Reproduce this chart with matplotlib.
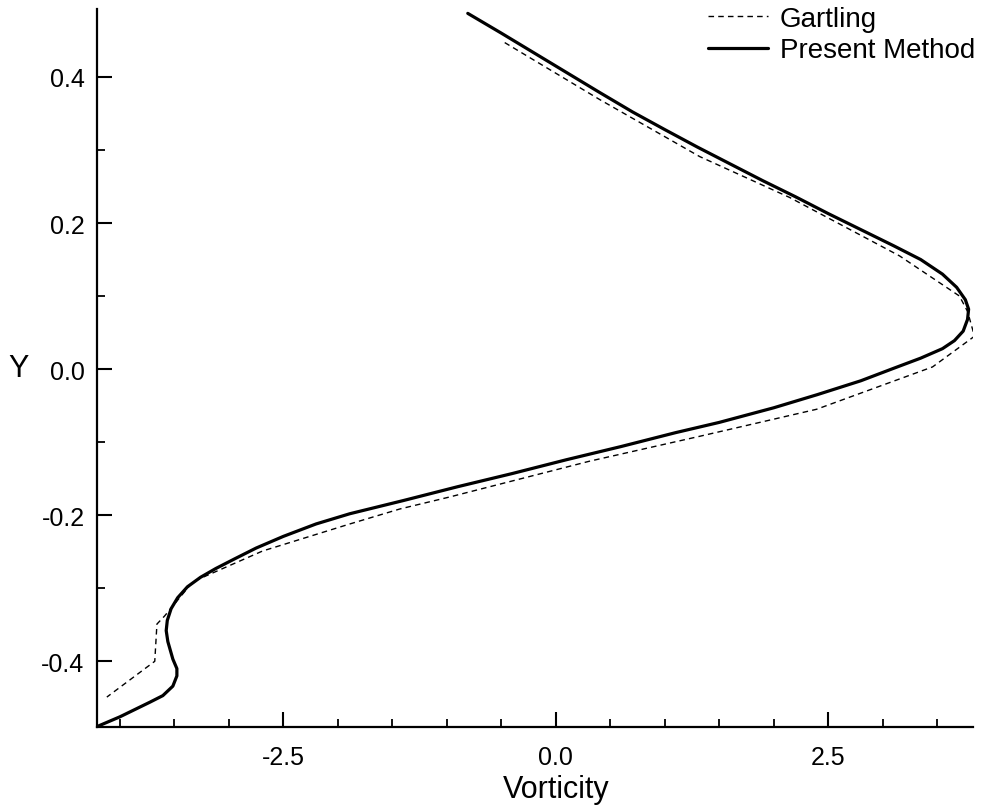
import numpy as np
import matplotlib
matplotlib.use("Agg")
import matplotlib.pyplot as plt
from matplotlib.ticker import MultipleLocator

plt.rcParams["font.family"] = ["Liberation Sans", "DejaVu Sans"]

# Present Method (solid) : vorticity, y
present_w = [-0.807, -0.5, -0.2, 0.1, 0.4, 0.706, 1.0, 1.3, 1.6, 1.9,
             2.2, 2.5, 2.8, 3.1, 3.35, 3.55, 3.68, 3.76, 3.79, 3.78,
             3.74, 3.66, 3.55, 3.35, 3.1, 2.8, 2.4, 2.0, 1.5, 1.1,
             0.6, 0.1, -0.4, -0.9, -1.4, -1.89, -2.2, -2.5, -2.75,
             -2.95, -3.12, -3.26, -3.38, -3.47, -3.53, -3.565, -3.575, -3.560, -3.514,
             -3.477, -3.477, -3.514, -3.606, -3.725, -4.000, -4.220]
present_y = [0.487, 0.460, 0.433, 0.406, 0.379, 0.352, 0.328, 0.304, 0.281, 0.258,
             0.236, 0.213, 0.191, 0.169, 0.150, 0.130, 0.112, 0.095, 0.082, 0.068,
             0.052, 0.039, 0.028, 0.015, 0.001, -0.016, -0.035, -0.053, -0.073, -0.087,
             -0.106, -0.124, -0.143, -0.161, -0.180, -0.198, -0.212, -0.229, -0.245,
             -0.260, -0.273, -0.285, -0.298, -0.313, -0.328, -0.344, -0.358, -0.373, -0.397,
             -0.410, -0.420, -0.434, -0.447, -0.456, -0.476, -0.490]

# Gartling (dashed)
gart_w = [-0.468, 0.404, 1.321, 2.147, 3.156, 3.706, 3.780, 3.844, 3.459, 2.394,
          1.321, 0.312, -0.972, -1.431, -1.890, -2.690, -3.330, -3.590, -3.660,
          -3.680, -4.120]
gart_y = [0.447, 0.369, 0.291, 0.235, 0.155, 0.100, 0.079, 0.045, 0.003, -0.055,
          -0.092, -0.126, -0.175, -0.1915, -0.212, -0.249, -0.291, -0.338, -0.349,
          -0.400, -0.449]

fig = plt.figure(figsize=(9.84, 8.12), dpi=100)
ax = fig.add_axes([0.0986, 0.1034, 0.8902, 0.8843])

ax.plot(gart_w, gart_y, color="black", lw=1.0, ls=(0, (4, 3)), label="Gartling")
ax.plot(present_w, present_y, color="black", lw=2.3, label="Present Method",
        solid_joinstyle="round", solid_capstyle="round")

ax.set_xlim(-4.21, 3.83)
ax.set_ylim(-0.49, 0.493)

ax.xaxis.set_minor_locator(MultipleLocator(0.5))
ax.yaxis.set_minor_locator(MultipleLocator(0.1))
ax.set_xticks([-2.5, 0.0, 2.5])
ax.set_xticklabels(["-2.5", "0.0", "2.5"])
ax.set_yticks([-0.4, -0.2, 0.0, 0.2, 0.4])
ax.set_yticklabels(["-0.4", "-0.2", "0.0", "0.2", "0.4"])

ax.tick_params(which="major", direction="in", length=11, width=1.5, labelsize=18)
ax.tick_params(axis="x", which="major", pad=13)
ax.tick_params(axis="y", which="major", pad=9)
ax.tick_params(which="minor", direction="in", length=6, width=1.3)

for s in ["top", "right"]:
    ax.spines[s].set_visible(False)
for s in ["left", "bottom"]:
    ax.spines[s].set_linewidth(1.6)

ax.set_xlabel("Vorticity", fontsize=22)
ax.xaxis.set_label_coords(0.524, -0.065)
ax.set_ylabel("Y", fontsize=22, rotation=0, va="center")
ax.yaxis.set_label_coords(-0.09, 0.5)

ax.legend(loc="upper right", bbox_to_anchor=(1.015, 1.02), frameon=False,
          fontsize=20, handlelength=2.15, handletextpad=0.43, labelspacing=0.2,
          borderaxespad=0)

fig.savefig("out.png", dpi=100)
